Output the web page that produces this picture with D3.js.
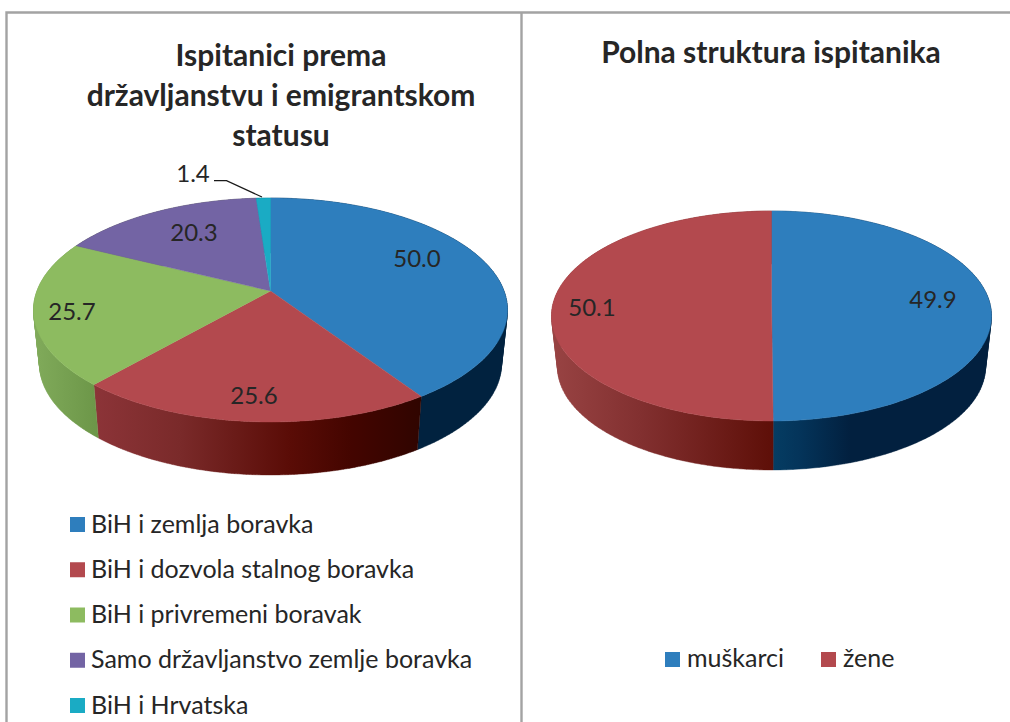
<!DOCTYPE html>
<html><head><meta charset="utf-8">
<script src="https://cdn.jsdelivr.net/npm/d3@7"></script>
<style>html,body{margin:0;background:#fff}svg{display:block}text{font-family:Lato,"Open Sans",sans-serif;fill:#262626}</style>
</head><body><svg id="c" width="1010" height="722"></svg>
<script>
const leftCategories = ["BiH i zemlja boravka","BiH i dozvola stalnog boravka","BiH i privremeni boravak","Samo državljanstvo zemlje boravka","BiH i Hrvatska"];
const leftValues = [50.0,25.6,25.7,20.3,1.4];
const leftColors = ["#2e7ebd","#b3494e","#8dbb60","#7364a4","#1aabc4"];
const rightCategories = ["muškarci","žene"];
const rightValues = [49.9,50.1];
const rightColors = ["#2e7ebd","#b3494e"];
const leftTitle = ["Ispitanici prema","državljanstvu i emigrantskom","statusu"];
const rightTitle = ["Polna struktura ispitanika"];

const svg = d3.select("#c");
const defs = svg.append("defs");
let gid = 0;

// side-wall shading, per slice colour: stops in pixel x
const leftShades = [
  {x:[420,445,510],c:["#01223f","#01223f","#01223f"]},
  {x:[94,180,290,350,420],c:["#8c3438","#7a2a2a","#5a0c06","#440500","#300500"]},
  {x:[36,98],c:["#80aa5a","#6c9648"]},
  {x:[0,1],c:["#555","#555"]},
  {x:[0,1],c:["#0a7f92","#0a7f92"]}
];
const rightShades = [
  {x:[772,800,850,990],c:["#053d63","#04345a","#02203f","#02203f"]},
  {x:[553,640,772],c:["#984343","#823030","#5e0f08"]}
];

function gradient(s){
  const id="g"+(gid++);
  const g=defs.append("linearGradient").attr("id",id).attr("gradientUnits","userSpaceOnUse")
    .attr("x1",s.x[0]).attr("x2",s.x[s.x.length-1]).attr("y1",0).attr("y2",0);
  s.x.forEach((x,i)=>g.append("stop").attr("offset",(x-s.x[0])/(s.x[s.x.length-1]-s.x[0])).attr("stop-color",s.c[i]));
  return "url(#"+id+")";
}

function drawPie(cfg){
  const {values,colors,shades,top,bottom,tilt}=cfg;
  const s=Math.sqrt(1-tilt*tilt);
  // perspective of the unit disc: the pie centre sits above the ellipse centre
  const project=(e,a)=>{
    const u=Math.sin(a), v=-Math.cos(a), d=1+tilt*v;
    return [e.cx+e.rx*u*s/d, e.cy+e.ry*(v+tilt)/d];
  };
  const arcs=d3.pie().sort(null)(values);
  const line=d3.line();
  const samples=(a0,a1)=>d3.range(0,121).map(i=>a0+(a1-a0)*i/120);
  const g=svg.append("g");
  // side walls as consistently wound quads, so their union reaches the silhouette;
  // the back part is hidden by the top faces drawn afterwards
  arcs.forEach((d,i)=>{
    const as=samples(d.startAngle,d.endAngle);
    const quads=d3.pairs(as).map(([a,b])=>{
      const q=[project(top,a),project(top,b),project(bottom,b),project(bottom,a)];
      if(d3.polygonArea(q)<0) q.reverse();
      return line(q)+"Z";
    }).join("");
    const fill=gradient(shades[i]);
    g.append("path").attr("d",quads).attr("fill",fill).attr("stroke",fill).attr("stroke-width",0.4);
  });
  // top faces
  arcs.forEach((d,i)=>{
    const centre=[top.cx, top.cy+top.ry*tilt];
    const pts=[centre].concat(samples(d.startAngle,d.endAngle).map(a=>project(top,a)));
    g.append("path").attr("d",line(pts)+"Z").attr("fill",colors[i]).attr("stroke",colors[i]).attr("stroke-width",0.4);
  });
}

// frame
const frame="#a3a3a3";
svg.append("path").attr("d","M6.5,722V12.5H1010M521.5,12.5V722").attr("fill","none").attr("stroke",frame).attr("stroke-width",2.4);

drawPie({values:leftValues,colors:leftColors,shades:leftShades,tilt:-0.17,
  top:{cx:270.5,cy:310,rx:237,ry:112}, bottom:{cx:270.5,cy:364,rx:231,ry:111}});
drawPie({values:rightValues,colors:rightColors,shades:rightShades,tilt:-0.17,
  top:{cx:771.5,cy:316,rx:220,ry:105}, bottom:{cx:771.5,cy:367,rx:214,ry:103}});

// titles
const titleText=(lines,x,y0)=>lines.forEach((t,i)=>svg.append("text").attr("x",x).attr("y",y0+i*40)
  .attr("text-anchor","middle").attr("font-size",30).attr("font-weight",700).attr("fill","#1a1a1a").text(t));
titleText(leftTitle,281,66);
titleText(rightTitle,771,63);

// data labels
const fmt=d3.format(".1f");
const leftLabelPos=[[417,267],[254,404],[72,320],[194,241],[193,182]];
const rightLabelPos=[[933,308],[592,316]];
const labels=(vals,pos)=>vals.forEach((v,i)=>svg.append("text").attr("x",pos[i][0]).attr("y",pos[i][1])
  .attr("text-anchor","middle").attr("font-size",24).text(fmt(v)));
labels(leftValues,leftLabelPos);
labels(rightValues,rightLabelPos);
svg.append("path").attr("d","M214,180.7H226.5L262,197").attr("fill","none").attr("stroke","#1a1a1a").attr("stroke-width",1.2);

// legends
const ly=d3.scalePoint().domain(leftCategories).range([524.5,705.5]);
leftCategories.forEach((c,i)=>{
  svg.append("rect").attr("x",70).attr("y",ly(c)-7.5).attr("width",15).attr("height",15).attr("fill",leftColors[i]);
  svg.append("text").attr("x",91).attr("y",ly(c)+8).attr("font-size",25).text(c);
});
const rlx=[665,821];
rightCategories.forEach((c,i)=>{
  svg.append("rect").attr("x",rlx[i]).attr("y",652).attr("width",15).attr("height",15).attr("fill",rightColors[i]);
  svg.append("text").attr("x",rlx[i]+22).attr("y",667).attr("font-size",25).text(c);
});
</script></body></html>
